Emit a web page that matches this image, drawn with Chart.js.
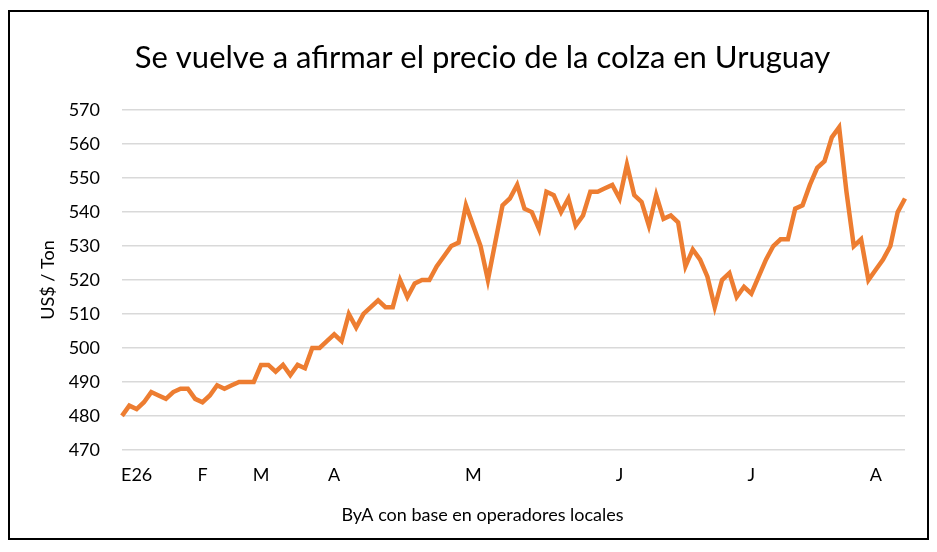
<!DOCTYPE html>
<html>
<head>
<meta charset="utf-8">
<script src="https://cdn.jsdelivr.net/npm/chart.js@4.4.1/dist/chart.umd.min.js"></script>
<style>
  html, body { margin: 0; padding: 0; background: #fff; }
  #wrap { width: 937px; height: 552px; position: relative; }
</style>
</head>
<body>
<div id="wrap"><canvas id="myChart" width="937" height="552"></canvas></div>
<script>
// precio colza Uruguay, US$/Ton
const prices = [
  480, 483, 482, 484, 487, 486, 485, 487, 488, 488, 485, 484, 486, 489, 488, 489, 490, 490, 490, 495, 495, 493, 495, 492, 495, 494, 500,
  500, 502, 504, 502, 510, 506, 510, 512, 514, 512, 512, 520, 515, 519, 520, 520, 524, 527, 530, 531, 542, 536, 530, 520,
  531, 542, 544, 548, 541, 540, 535, 546, 545, 540, 544, 536, 539, 546, 546, 547, 548, 544, 554, 545, 543, 536, 545, 538, 539, 537,
  524, 529, 526, 521, 512, 520, 522, 515, 518, 516, 521, 526, 530, 532, 532, 541, 542, 548, 553, 555, 562, 565, 546, 530, 532, 520, 523, 526, 530, 540, 544
];
const monthLabels = ['E26', 'F', 'M', 'A', 'M', 'J', 'J', 'A'];
const monthAt = [2, 11, 19, 29, 48, 68, 86, 103];

const categories = prices.map(() => '');
monthAt.forEach((i, k) => { categories[i] = monthLabels[k]; });

const fontFam = 'Lato, "Open Sans", sans-serif';

// white background + black frame
const frame = {
  id: 'frame',
  beforeDraw(chart) {
    const c = chart.ctx;
    c.save();
    c.fillStyle = '#fff';
    c.fillRect(0, 0, chart.width, chart.height);
    c.strokeStyle = '#000';
    c.lineWidth = 2;
    c.strokeRect(9, 11, 919, 528);
    c.restore();
  }
};

var ctx = document.getElementById('myChart').getContext('2d');
// eslint-disable-next-line no-unused-vars
var chart = new Chart(ctx, {
  type: 'line',
  data: {
    labels: categories,
    datasets: [{
      label: 'US$ / Ton',
      data: prices,
      borderColor: '#ED7D31',
      borderWidth: 4.5,
      pointRadius: 0,
      tension: 0,
      fill: false
    }]
  },
  options: {
    responsive: false,
    animation: false,
    layout: { padding: { left: 60, right: 32, top: 12, bottom: 14 } },
    plugins: {
      legend: { display: false },
      tooltip: { enabled: false },
      title: {
        display: true,
        text: 'Se vuelve a afirmar el precio de la colza en Uruguay',
        color: '#000',
        font: { family: fontFam, size: 31, weight: 'normal' },
        padding: { top: 27, bottom: 34 }
      },
      subtitle: {
        display: true,
        position: 'bottom',
        text: 'ByA con base en operadores locales',
        color: '#000',
        font: { family: fontFam, size: 18, weight: 'normal' },
        padding: { top: 3, bottom: 12 }
      }
    },
    scales: {
      x: {
        grid: { display: false, drawTicks: false },
        border: { display: false },
        ticks: {
          autoSkip: false,
          maxRotation: 0,
          color: '#000',
          padding: 15,
          font: { family: fontFam, size: 18 }
        }
      },
      y: {
        min: 470,
        max: 570,
        afterFit(scale) { scale.width = 62; },
        grid: { color: '#D9D9D9', lineWidth: 1.5, drawTicks: false },
        border: { display: false },
        ticks: {
          stepSize: 10,
          color: '#000',
          padding: 22,
          font: { family: fontFam, size: 18 }
        },
        title: {
          display: true,
          text: 'US$ / Ton',
          color: '#000',
          font: { family: fontFam, size: 18 },
          padding: { top: -23, bottom: 0 }
        }
      }
    }
  },
  plugins: [frame]
});
</script>
</body>
</html>
